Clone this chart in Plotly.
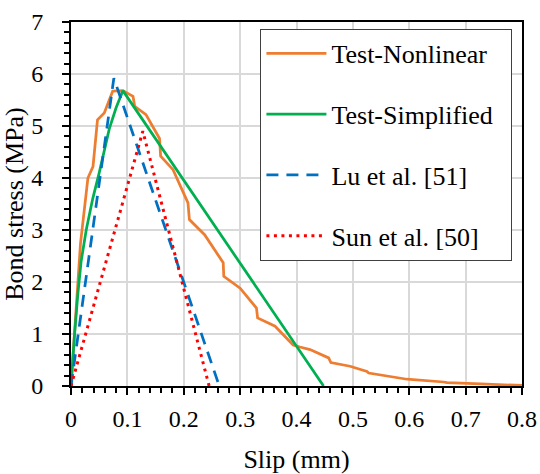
import plotly.graph_objects as go

# ---- data ----
nl_x = [0, 0.0169, 0.030, 0.039, 0.047, 0.059, 0.074, 0.092, 0.110, 0.113, 0.133,
        0.157, 0.159, 0.181, 0.2075, 0.210, 0.237, 0.270, 0.271, 0.300, 0.329, 0.331,
        0.362, 0.394, 0.406, 0.424, 0.457, 0.461, 0.495, 0.525, 0.528, 0.590, 0.596,
        0.661, 0.667, 0.7265, 0.800]
nl_y = [0, 2.75, 4.00, 4.22, 5.12, 5.25, 5.67, 5.68, 5.57, 5.38, 5.22,
        4.76, 4.42, 4.16, 3.52, 3.20, 2.91, 2.37, 2.11, 1.88, 1.50, 1.31,
        1.15, 0.79, 0.75, 0.70, 0.54, 0.45, 0.38, 0.28, 0.25, 0.15, 0.13,
        0.077, 0.065, 0.04, 0.01]

simp_x = [0, 0.003, 0.006, 0.012, 0.018, 0.027, 0.0385, 0.050, 0.068, 0.080, 0.092, 0.448]
simp_y = [0, 0.55, 0.95, 1.75, 2.40, 3.00, 3.60, 4.10, 4.95, 5.35, 5.68, 0]

lu_x = [0, 0.076, 0.263]
lu_y = [0, 5.92, 0]

sun_x = [0, 0.1274, 0.245]
sun_y = [0, 4.90, 0]

series_names = ["Test-Nonlinear", "Test-Simplified", "Lu et al. [51]", "Sun et al. [50]"]

x_ticks = [0, 0.1, 0.2, 0.3, 0.4, 0.5, 0.6, 0.7, 0.8]
x_ticklabels = ["0", "0.1", "0.2", "0.3", "0.4", "0.5", "0.6", "0.7", "0.8"]
y_ticks = [0, 1, 2, 3, 4, 5, 6, 7]
y_ticklabels = ["0", "1", "2", "3", "4", "5", "6", "7"]

FONT = "Liberation Serif"
PAD = "\u00a0\u00a0"  # invisible padding so the legend box is as wide as the original

fig = go.Figure()
fig.add_trace(go.Scatter(x=nl_x, y=nl_y, mode="lines", name=series_names[0],
                         legendgroup="a", line=dict(color="#ED7D31", width=2.75)))
fig.add_trace(go.Scatter(x=simp_x, y=simp_y, mode="lines", name=series_names[1] + PAD,
                         legendgroup="b", line=dict(color="#00B050", width=2.75)))
fig.add_trace(go.Scatter(x=lu_x, y=lu_y, mode="lines", name=series_names[2],
                         legendgroup="c", line=dict(color="#0070C0", width=2.75, dash="12px,8px")))
fig.add_trace(go.Scatter(x=sun_x, y=sun_y, mode="lines", name=series_names[3],
                         legendgroup="d", line=dict(color="#FF0000", width=3, dash="3px,4.5px")))

axis_common = dict(
    showline=True, linecolor="black", linewidth=2, mirror=True,
    showgrid=True, gridcolor="#D9D9D9", gridwidth=1.5,
    zeroline=False, automargin=False,
    ticks="outside", ticklen=7, tickwidth=2, tickcolor="black",
)

fig.update_xaxes(range=[0, 0.8], tickmode="array", tickvals=x_ticks, ticktext=x_ticklabels,
                 tickfont_family=FONT, tickfont_size=24, tickfont_color="black",
                 ticklabelstandoff=3,
                 minor=dict(dtick=0.02, ticks="outside", ticklen=5, tickwidth=1.5,
                            tickcolor="black", showgrid=False),
                 title_text="Slip (mm)", title_font_family=FONT, title_font_size=26,
                 title_font_color="black", title_standoff=22,
                 **axis_common)
fig.update_yaxes(range=[0, 7], tickmode="array", tickvals=y_ticks, ticktext=y_ticklabels,
                 tickfont_family=FONT, tickfont_size=24, tickfont_color="black",
                 minor=dict(dtick=0.2, ticks="outside", ticklen=5, tickwidth=1.5,
                            tickcolor="black", showgrid=False),
                 ticklabelstandoff=14,
                 title_text="Bond stress (MPa)", title_font_family=FONT, title_font_size=26,
                 title_font_color="black", title_standoff=0,
                 **axis_common)

fig.update_layout(
    width=540, height=474,
    margin=dict(l=71, r=18, t=22, b=88),
    paper_bgcolor="white", plot_bgcolor="white",
    font_family=FONT, font_color="black",
    legend=dict(x=0.42, y=0.981, xanchor="left", yanchor="top",
                bgcolor="white", bordercolor="#404040", borderwidth=1,
                font_family=FONT, font_size=26, font_color="black",
                traceorder="grouped", tracegroupgap=24, itemwidth=60),
    showlegend=True,
)

fig.write_html("out.html")
